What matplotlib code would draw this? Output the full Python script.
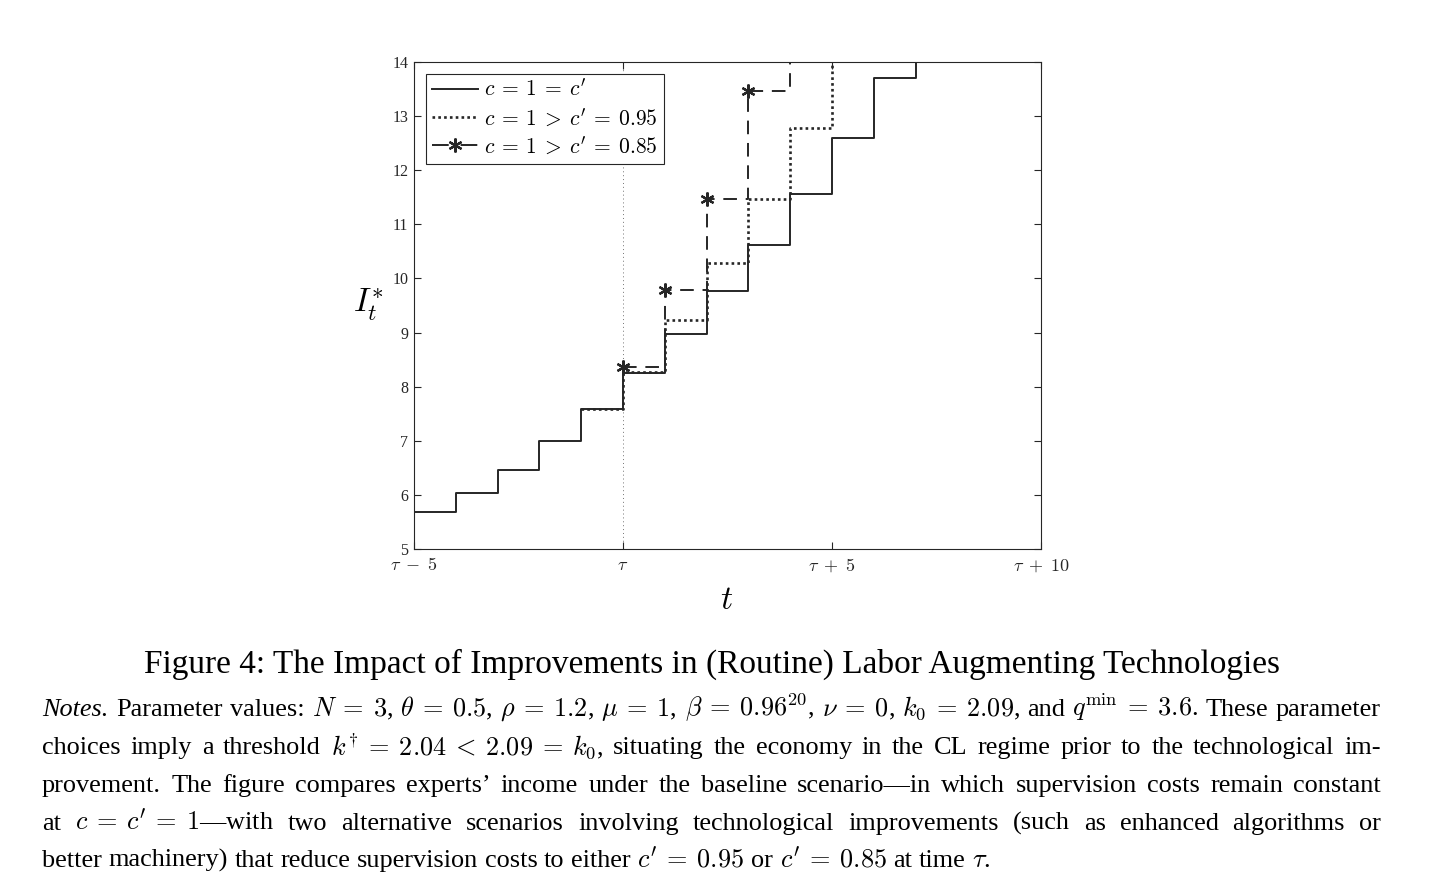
import matplotlib
matplotlib.use("Agg")
import matplotlib.pyplot as plt
from matplotlib.lines import Line2D

plt.rcParams['mathtext.fontset'] = 'cm'
plt.rcParams['font.family'] = ['Liberation Serif', 'DejaVu Serif']

# data (stairs, value holds from t to t+1)
t_base = [-6, -5, -4, -3, -2, -1, 0, 1, 2, 3, 4, 5, 6, 7]
I_base = [5.40, 5.69, 6.03, 6.46, 6.99, 7.59, 8.25, 8.97, 9.76, 10.62, 11.56, 12.60, 13.71, 14.90]
t_095 = [-1, 0, 1, 2, 3, 4, 5]
I_095 = [7.59, 8.28, 9.23, 10.28, 11.46, 12.78, 14.30]
t_085 = [0, 1, 2, 3, 4]
I_085 = [8.37, 9.79, 11.46, 13.46, 15.60]

labels = [r"$c\:=\:1\:=\:c^{\prime}$", r"$c\:=\:1\:>\:c^{\prime}\:=\:0.95$",
          r"$c\:=\:1\:>\:c^{\prime}\:=\:0.85$"]
x_ticks = [-5, 0, 5, 10]
x_ticklabels = [r"$\tau\;-\;5$", r"$\tau$", r"$\tau\;+\;5$", r"$\tau\;+\;10$"]
y_ticks = list(range(5, 15))

title = "Figure 4: The Impact of Improvements in (Routine) Labor Augmenting Technologies"
notes = [
    r"Notes. Parameter values: $N\:=\:3$, $\theta\:=\:0.5$, $\rho\:=\:1.2$, $\mu\:=\:1$, $\beta\:=\:0.96^{20}$, $\nu\:=\:0$, $k_0\:=\:2.09$, and $q^{\mathrm{min}}\:=\:3.6$. These parameter",
    r"choices imply a threshold $k^{\dagger}\:=\:2.04\:<\:2.09\:=\:k_0$, situating the economy in the CL regime prior to the technological im-",
    "provement. The figure compares experts\u2019 income under the baseline scenario\u2014in which supervision costs remain constant",
    r"at $c\:=\:c^{\prime}\:=\:1$" + "\u2014with two alternative scenarios involving technological improvements (such as enhanced algorithms or",
    r"better machinery) that reduce supervision costs to either $c^{\prime}\:=\:0.95$ or $c^{\prime}\:=\:0.85$ at time $\tau$.",
]

W, H, DPI = 1432, 889, 100
fig = plt.figure(figsize=(W / DPI, H / DPI), dpi=DPI)
ax = fig.add_axes([414 / W, 1 - 549 / H, (1041 - 414) / W, (549 - 62) / H])

dark = '#262626'
ax.axvline(0, color='0.45', lw=0.7, ls=(0, (1, 3)), zorder=1)
l1, = ax.step(t_base, I_base, where='post', color=dark, lw=1.4, zorder=4)
l2, = ax.step(t_095, I_095, where='post', color=dark, lw=1.9, ls=(0, (1, 1.2)), zorder=3)
l3, = ax.step(t_085, I_085, where='post', color=dark, lw=1.4, ls=(0, (7, 4.5)),
              marker=(6, 2, 0), ms=10, mew=1.6, zorder=2)
# legend proxy so the dashes sit either side of the marker
l3_leg = Line2D([], [], color=dark, lw=1.4, ls=(0, (8.6, 6.1)),
                marker=(6, 2, 0), ms=10, mew=1.6)

ax.set_xlim(-5, 10)
ax.set_ylim(5, 14)
ax.set_xticks(x_ticks)
ax.set_xticklabels(x_ticklabels)
ax.set_yticks(y_ticks)
ax.tick_params(axis='both', direction='in', length=5, width=0.8, colors=dark,
               top=True, right=True)
ax.tick_params(axis='x', labelsize=13, pad=6)
ax.tick_params(axis='y', labelsize=11.5, pad=4)
for s in ax.spines.values():
    s.set_color(dark)
    s.set_linewidth(0.8)

leg = ax.legend([l1, l2, l3_leg], labels, loc='upper left', bbox_to_anchor=(0.019, 0.976),
                borderaxespad=0, fontsize=15.5, handlelength=2.1, handletextpad=0.3,
                labelspacing=0.3, borderpad=0.3, fancybox=False, framealpha=1,
                edgecolor=dark)
leg.get_frame().set_linewidth(0.8)

fig.text(368 / W, 1 - 305 / H, r"$I_t^{*}$", fontsize=24, ha='center', va='center')
fig.text(727 / W, 1 - 601 / H, r"$t$", fontsize=24, ha='center', va='center')

fig.text(712 / W, 1 - 673 / H, title, fontsize=24, ha='center', va='baseline')


def tokens(line):
    out, cur, in_math = [], '', False
    for ch in line:
        if ch == '$':
            in_math = not in_math
        if ch == ' ' and not in_math:
            if cur:
                out.append(cur)
            cur = ''
        else:
            cur += ch
    if cur:
        out.append(cur)
    return out


renderer = fig.canvas.get_renderer()
x0, x1 = 42, 1381
baselines = [716, 754, 792, 830, 867]

# pick a font size so the widest full line fits with normal word spacing
fs0 = 15
widest = 0
for line in notes[:-1]:
    ws = tokens(line)
    tot = 0
    for w in ws:
        t = fig.text(0, 0, w, fontsize=fs0, style='italic' if w == 'Notes.' else 'normal')
        tot += t.get_window_extent(renderer).width
        t.remove()
    tot += 0.25 * fs0 * DPI / 72 * (len(ws) - 1)
    widest = max(widest, tot)
fs = fs0 * (x1 - x0) / widest
space = 0.25 * fs * DPI / 72

for i, line in enumerate(notes):
    words = tokens(line)
    objs = []
    for w in words:
        style = 'italic' if w == 'Notes.' else 'normal'
        objs.append(fig.text(0, 1 - baselines[i] / H, w, fontsize=fs, style=style,
                             ha='left', va='baseline'))
    widths = [o.get_window_extent(renderer).width for o in objs]
    if i < len(notes) - 1:
        gap = (x1 - x0 - sum(widths)) / (len(words) - 1)
    else:
        gap = space
    x = x0
    for o, w in zip(objs, widths):
        o.set_x(x / W)
        x += w + gap

fig.savefig('out.png', dpi=DPI)
